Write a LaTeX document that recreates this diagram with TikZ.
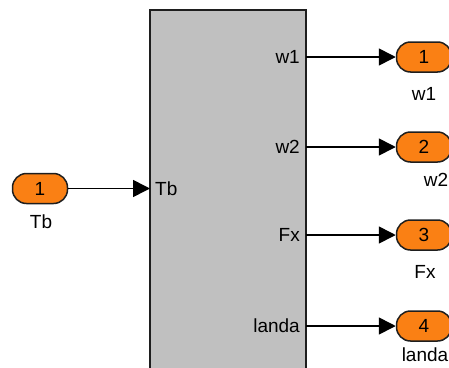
\documentclass[tikz,border=0pt]{standalone}
\usepackage{fontspec}
\setmainfont{Liberation Sans}
\usetikzlibrary{arrows.meta}
\definecolor{portorange}{RGB}{250,128,20}
\definecolor{blockgray}{RGB}{192,192,192}
\definecolor{edge}{RGB}{30,30,30}
\tikzset{
  labelfont/.style={font=\fontsize{19}{19}\selectfont},
  port/.style={draw=edge, line width=1.5pt, fill=portorange, rounded corners=14pt,
    minimum width=55pt, minimum height=30pt, inner sep=0pt, labelfont},
  portname/.style={inner sep=0pt, labelfont},
  pinname/.style={inner sep=0pt, labelfont},
  wire/.style={line width=1.6pt, -{Triangle[length=17pt,width=17pt]}},
}
\begin{document}
\begin{tikzpicture}[x=1pt,y=-1pt]
  \useasboundingbox (0,0) rectangle (449,367);
  \clip (0,0) rectangle (449,367);

  % subsystem block
  \draw[draw=edge, line width=1.3pt, fill=blockgray] (150,10) rectangle (306,390);
  \coordinate (inTb) at (150,188.5);
  \coordinate (outA) at (306,57);
  \coordinate (outB) at (306,147);
  \coordinate (outC) at (306,235);
  \coordinate (outD) at (306,326);

  % port labels inside the block
  \node[pinname, anchor=west] (lTb) at (155,189) {Tb};
  \node[pinname, anchor=east] (lA) at (300,57) {w1};
  \node[pinname, anchor=east] (lB) at (300,147) {w2};
  \node[pinname, anchor=east] (lC) at (300,235) {Fx};
  \node[pinname, anchor=east] (lD) at (300,326) {landa};

  % inport
  \node[port] (pTb) at (40,188.5) {1};
  \node[portname] (nTb) at (41,222) {Tb};

  % outports
  \node[port] (pA) at (424,57) {1};
  \node[port] (pB) at (424,147) {2};
  \node[port] (pC) at (424,235) {3};
  \node[port] (pD) at (424,326) {4};
  \node[portname] (nA) at (424,94) {w1};
  \node[portname] (nB) at (436,180) {w2};
  \node[portname] (nC) at (425,272) {Fx};
  \node[portname] (nD) at (425,355) {landa};

  % signal lines
  \draw[wire] (pTb.east) -- (inTb);
  \draw[wire] (outA) -- (pA.west);
  \draw[wire] (outB) -- (pB.west);
  \draw[wire] (outC) -- (pC.west);
  \draw[wire] (outD) -- (pD.west);
\end{tikzpicture}
\end{document}
